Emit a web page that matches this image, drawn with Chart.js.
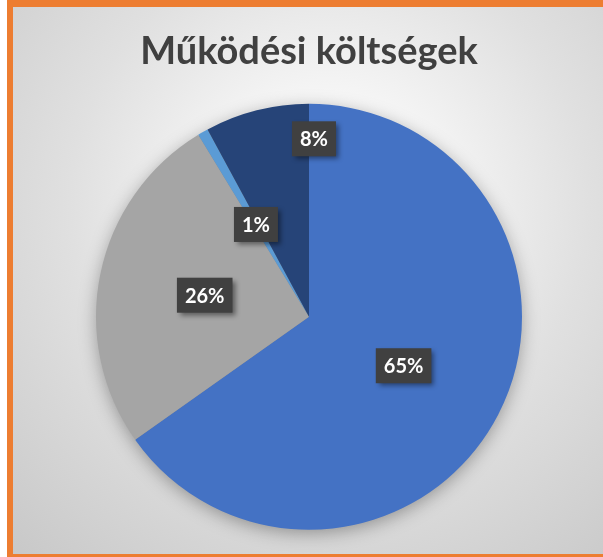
<!DOCTYPE html>
<html>
<head>
<meta charset="utf-8">
<script src="https://cdn.jsdelivr.net/npm/chart.js@4.4.1/dist/chart.umd.min.js"></script>
<style>
  html, body { margin: 0; padding: 0; background: #ffffff; overflow: hidden; }
  body { width: 603px; height: 557px; position: relative; }
  .frame {
    position: absolute; left: 7px; top: 0; width: 620px; height: 547px;
    border: 6px solid #ED7D31; border-top-width: 7px; border-right: none;
    background: radial-gradient(circle farthest-corner at 51% 36%, #ffffff 0%, #f6f6f6 22%, #e0e0e0 55%, #c8c8c8 100%);
  }
  #myChart { position: absolute; left: 0; top: 0; }
</style>
</head>
<body>
<div class="frame"></div>
<canvas id="myChart" width="603" height="557"></canvas>
<script>
// data (share of total, %)
var categories = ['Tétel 1', 'Tétel 2', 'Tétel 3', 'Tétel 4'];
var values = [65.2, 26.1, 0.8, 7.9];
var percentLabels = ['65%', '26%', '1%', '8%'];
var sliceColors = ['#4472C4', '#A5A5A5', '#5B9BD5', '#264478'];

const rendering = document.getElementById("myChart").getContext("2d");

//soft shadow under the pie
const pieShadow = {
    id: 'pieShadow',
    beforeDatasetsDraw: function (chart) {
        let arc = chart.getDatasetMeta(0).data[0];
        if (!arc) return;
        let ctx = chart.ctx;
        ctx.save();
        ctx.shadowColor = 'rgba(0,0,0,0.35)';
        ctx.shadowBlur = 18;
        ctx.shadowOffsetY = 4;
        ctx.fillStyle = '#888888';
        ctx.beginPath();
        ctx.arc(arc.x, arc.y, arc.outerRadius - 1, 0, Math.PI * 2);
        ctx.fill();
        ctx.restore();
    }
};

//dark boxes with the percent text
const boxLabels = {
    id: 'boxLabels',
    afterDatasetsDraw: function (chart, args, opts) {
        let ctx = chart.ctx;
        let meta = chart.getDatasetMeta(0);
        ctx.save();
        ctx.font = 'bold 20px Lato';
        ctx.textAlign = 'center';
        ctx.textBaseline = 'middle';
        for (let i = 0; i < meta.data.length; ++i) {
            let a = meta.data[i];
            let ang = (a.startAngle + a.endAngle) / 2;
            let frac = 0.5;
            let o = opts.moved[i];
            if (o) {
                ang = o.angle * Math.PI / 180;
                frac = o.frac;
            }
            let x = a.x + Math.cos(ang) * a.outerRadius * frac;
            let y = a.y + Math.sin(ang) * a.outerRadius * frac;
            let text = percentLabels[i];
            let w = ctx.measureText(text).width + 16;
            let h = 35;
            ctx.save();
            ctx.shadowColor = 'rgba(0,0,0,0.45)';
            ctx.shadowBlur = 5;
            ctx.shadowOffsetX = 3;
            ctx.shadowOffsetY = 3;
            ctx.fillStyle = '#404040';
            ctx.fillRect(x - w / 2, y - h / 2, w, h);
            ctx.restore();
            ctx.fillStyle = '#ffffff';
            ctx.fillText(text, x, y + 1);
        }
        ctx.restore();
    }
};

const config = {
    type: 'pie',
    data: {
        labels: categories,
        datasets: [{
            data: values,
            backgroundColor: sliceColors,
            borderWidth: 0
        }]
    },
    options: {
        responsive: false,
        animation: false,
        events: [],
        layout: {
            padding: { left: 96, right: 81, top: 0, bottom: 27 }
        },
        plugins: {
            legend: { display: false },
            tooltip: { enabled: false },
            title: {
                display: true,
                text: 'Működési költségek',
                color: '#404040',
                font: { family: 'Lato', size: 38, weight: 'bold', lineHeight: 1.2 },
                padding: { top: 29, bottom: 29 }
            },
            boxLabels: {
                moved: [null, null, null, { angle: -88.4, frac: 0.836 }]
            }
        }
    },
    plugins: [pieShadow, boxLabels]
};

new Chart(rendering, config);
</script>
</body>
</html>
